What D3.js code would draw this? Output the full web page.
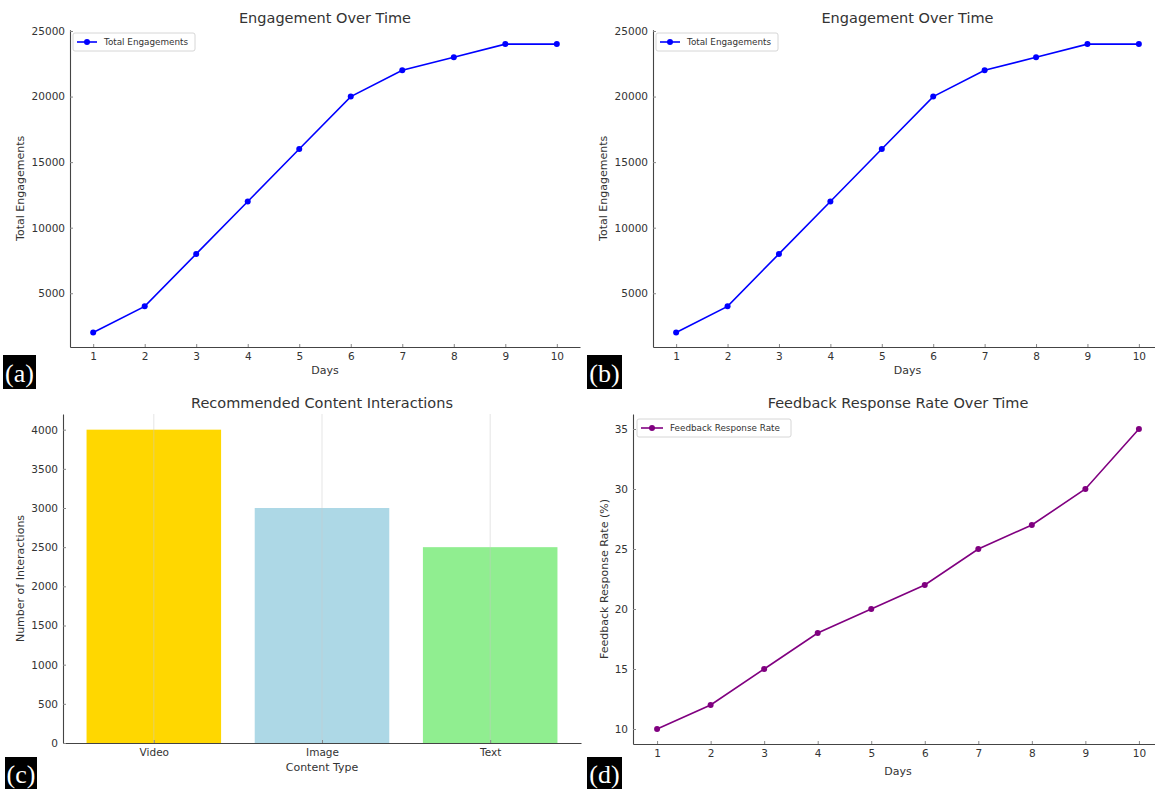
<!DOCTYPE html>
<html><head><meta charset="utf-8">
<script src="https://cdn.jsdelivr.net/npm/d3@7"></script>
<style>body{margin:0;background:#fff}svg{display:block}text{font-family:"DejaVu Sans",sans-serif}</style>
</head><body>
<svg id="c" width="1155" height="789"></svg>
<script>
const days = [1,2,3,4,5,6,7,8,9,10];
const engagements = [2000,4000,8000,12000,16000,20000,22000,23000,24000,24000];
const engagementTicks = [5000,10000,15000,20000,25000];
const contentTypes = ["Video","Image","Text"];
const interactions = [4000,3000,2500];
const barColors = ["#FFD700","#ADD8E6","#90EE90"];
const interactionTicks = [0,500,1000,1500,2000,2500,3000,3500,4000];
const feedbackRate = [10,12,15,18,20,22,25,27,30,35];
const feedbackTicks = [10,15,20,25,30,35];

const svg = d3.select("#c");
const AX = "#444", TXT = "#333";
const fmt = d3.format("d");

function styleAxis(g){
  g.select(".domain").attr("stroke", AX).attr("stroke-width", 1.1);
  g.selectAll(".tick line").attr("stroke", "#888");
  g.selectAll(".tick text").attr("fill", TXT).attr("font-size", 10.5);
}

function linePanel(o){
  const x = d3.scaleLinear().domain([0.55, 10.45]).range([o.left, o.right]);
  const y = d3.scaleLinear().domain(o.ydom).range([o.bottom, o.top]);
  const g = svg.append("g");
  const xa = g.append("g").attr("transform", `translate(0,${o.bottom})`)
    .call(d3.axisBottom(x).tickValues(days).tickFormat(fmt).tickSizeInner(-3).tickSizeOuter(0).tickPadding(6));
  styleAxis(xa);
  const ya = g.append("g").attr("transform", `translate(${o.left},0)`)
    .call(d3.axisLeft(y).tickValues(o.ticks).tickFormat(fmt).tickSizeInner(-3).tickSizeOuter(0).tickPadding(5));
  styleAxis(ya);
  const pts = days.map((d,i)=>[d,o.values[i]]);
  g.append("path").attr("d", d3.line().x(d=>x(d[0])).y(d=>y(d[1]))(pts))
    .attr("fill","none").attr("stroke",o.color).attr("stroke-width",1.6);
  g.selectAll("circle.m").data(pts).join("circle").attr("class","m")
    .attr("cx",d=>x(d[0])).attr("cy",d=>y(d[1])).attr("r",3).attr("fill",o.color);
  g.append("text").attr("x",(o.left+o.right)/2).attr("y",o.titleY)
    .attr("text-anchor","middle").attr("font-size",14.5).attr("fill",TXT).text(o.title);
  g.append("text").attr("x",(o.left+o.right)/2).attr("y",o.xlabY)
    .attr("text-anchor","middle").attr("font-size",11).attr("fill",TXT).text("Days");
  g.append("text").attr("transform",`translate(${o.ylabX},${(o.top+o.bottom)/2}) rotate(-90)`)
    .attr("text-anchor","middle").attr("dominant-baseline","middle").attr("font-size",11).attr("fill",TXT).text(o.ylabel);
  const L = o.legend;
  g.append("rect").attr("x",L.x).attr("y",L.y).attr("width",L.w).attr("height",L.h)
    .attr("fill","#fff").attr("stroke","#ccc").attr("stroke-width",0.8).attr("rx",2);
  const cy = L.y + L.h/2;
  g.append("line").attr("x1",L.x+4).attr("x2",L.x+4+L.lw).attr("y1",cy).attr("y2",cy)
    .attr("stroke",o.color).attr("stroke-width",1.6);
  g.append("circle").attr("cx",L.x+4+L.lw/2).attr("cy",cy).attr("r",3).attr("fill",o.color);
  g.append("text").attr("x",L.x+4+L.lw+7).attr("y",cy).attr("dominant-baseline","central")
    .attr("font-size",8.8).attr("fill",TXT).text(o.series);
}

linePanel({left:70,right:580,top:29.7,bottom:347,ydom:[900,25100],ticks:engagementTicks,
  values:engagements,color:"#0000FF",title:"Engagement Over Time",titleY:23,xlabY:374,ylabX:21,
  ylabel:"Total Engagements",series:"Total Engagements",legend:{x:73,y:33,w:122,h:18,lw:20}});
linePanel({left:653,right:1162,top:29.7,bottom:347,ydom:[900,25100],ticks:engagementTicks,
  values:engagements,color:"#0000FF",title:"Engagement Over Time",titleY:23,xlabY:374,ylabX:604,
  ylabel:"Total Engagements",series:"Total Engagements",legend:{x:656,y:33,w:122,h:18,lw:20}});
linePanel({left:633,right:1163,top:414,bottom:744,ydom:[8.75,36.25],ticks:feedbackTicks,
  values:feedbackRate,color:"#800080",title:"Feedback Response Rate Over Time",titleY:408,xlabY:775,ylabX:605,
  ylabel:"Feedback Response Rate (%)",series:"Feedback Response Rate",legend:{x:637,y:419,w:154,h:18,lw:22}});

(function(){
  const left=63,right=581,top=414,bottom=743;
  const x = d3.scaleLinear().domain([-0.54, 2.54]).range([left,right]);
  const y = d3.scaleLinear().domain([0,4200]).range([bottom,top]);
  const g = svg.append("g");
  g.selectAll("rect.bar").data(contentTypes).join("rect").attr("class","bar")
    .attr("x",(d,i)=>x(i-0.4)).attr("width",(d,i)=>x(i+0.4)-x(i-0.4))
    .attr("y",(d,i)=>y(interactions[i])).attr("height",(d,i)=>y(0)-y(interactions[i]))
    .attr("fill",(d,i)=>barColors[i]);
  g.selectAll("line.grid").data(contentTypes).join("line").attr("class","grid")
    .attr("x1",(d,i)=>x(i)).attr("x2",(d,i)=>x(i)).attr("y1",top).attr("y2",bottom)
    .attr("stroke","#c8c8c8").attr("stroke-width",0.7).attr("stroke-opacity",0.7);
  const xa = g.append("g").attr("transform",`translate(0,${bottom})`)
    .call(d3.axisBottom(x).tickValues([0,1,2]).tickFormat(i=>contentTypes[i]).tickSizeInner(-3).tickSizeOuter(0).tickPadding(6));
  styleAxis(xa);
  const ya = g.append("g").attr("transform",`translate(${left},0)`)
    .call(d3.axisLeft(y).tickValues(interactionTicks).tickFormat(fmt).tickSizeInner(-3).tickSizeOuter(0).tickPadding(5));
  styleAxis(ya);
  g.append("text").attr("x",(left+right)/2).attr("y",408).attr("text-anchor","middle")
    .attr("font-size",14.5).attr("fill",TXT).text("Recommended Content Interactions");
  g.append("text").attr("x",(left+right)/2).attr("y",771).attr("text-anchor","middle")
    .attr("font-size",11).attr("fill",TXT).text("Content Type");
  g.append("text").attr("transform",`translate(21,${(top+bottom)/2}) rotate(-90)`)
    .attr("text-anchor","middle").attr("dominant-baseline","middle").attr("font-size",11).attr("fill",TXT).text("Number of Interactions");
})();

const tags = [["(a)",3,355,33,34],["(b)",587,355,35,34],["(c)",5,757,32,32],["(d)",587,757,35,32]];
tags.forEach(t=>{
  svg.append("rect").attr("x",t[1]).attr("y",t[2]).attr("width",t[3]).attr("height",t[4]).attr("fill","#000");
  svg.append("text").attr("x",t[1]+t[3]/2).attr("y",t[2]+t[4]/2+1).attr("text-anchor","middle")
    .attr("dominant-baseline","central").attr("fill","#fff")
    .style("font-family","'Liberation Serif',serif").attr("font-size",26).text(t[0]);
});
</script>
</body></html>
